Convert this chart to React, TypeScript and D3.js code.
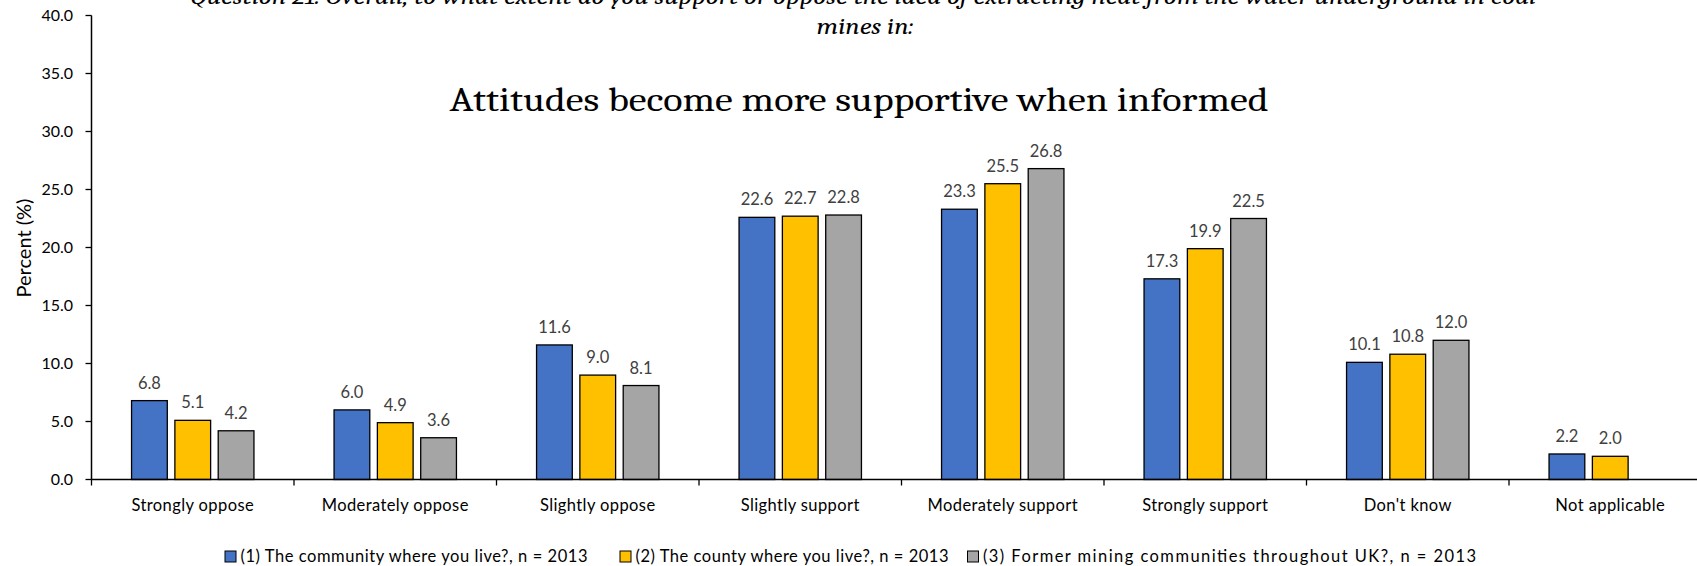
import React from "react";
import * as d3 from "d3";

// Survey responses (percent of respondents) by framing of the question
const categories = [
  "Strongly oppose",
  "Moderately oppose",
  "Slightly oppose",
  "Slightly support",
  "Moderately support",
  "Strongly support",
  "Don't know",
  "Not applicable",
];

const seriesNames = [
  "(1) The community where you live?, n = 2013",
  "(2) The county where you live?, n = 2013",
  "(3) Former mining communities throughout UK?, n = 2013",
];

const communityValues: (number | null)[] = [6.8, 6.0, 11.6, 22.6, 23.3, 17.3, 10.1, 2.2];
const countyValues: (number | null)[] = [5.1, 4.9, 9.0, 22.7, 25.5, 19.9, 10.8, 2.0];
const formerMiningValues: (number | null)[] = [4.2, 3.6, 8.1, 22.8, 26.8, 22.5, 12.0, null];

const seriesValues = [communityValues, countyValues, formerMiningValues];
const seriesColors = ["#4472C4", "#FFC000", "#A5A5A5"];

const yTicks = [0, 5, 10, 15, 20, 25, 30, 35, 40];

const subtitleLines = [
  "Question 21: Overall, to what extent do you support or oppose the idea of extracting heat from the water underground in coal",
  "mines in:",
];
const title = "Attitudes become more supportive when informed";

const W = 1697;
const H = 566;
const plotLeft = 91.5;
const categoryWidth = 202.5;
const labelFont = "Lato, 'Open Sans', sans-serif";
const serifFont = "Cambria, 'DejaVu Serif', 'Liberation Serif', serif";

// Legend layout: swatch x and text run length
const legendX = [225, 620, 967.5];
const legendTextLength = [347, 313, 493];

export default function App() {
  const x0 = d3
    .scaleBand<string>()
    .domain(categories)
    .range([plotLeft, plotLeft + categoryWidth * categories.length])
    .paddingInner(0)
    .paddingOuter(0);

  const groupWidth = 122.4;
  const x1 = d3
    .scaleBand<number>()
    .domain([0, 1, 2])
    .range([-groupWidth / 2, groupWidth / 2])
    .paddingInner(0.175)
    .paddingOuter(0);

  const y = d3.scaleLinear().domain([0, 40]).range([479.5, 15.5]);
  const fmt = d3.format(".1f");

  const boundaries = d3.range(categories.length + 1).map(
    (i) => plotLeft + i * categoryWidth
  );

  return (
    <svg
      width={W}
      height={H}
      style={{ position: "absolute", left: 0, top: 0, background: "#fff" }}
    >
      {/* Question text, its first line running off the top edge */}
      <text
        x={863}
        y={4}
        textAnchor="middle"
        fontFamily={serifFont}
        fontStyle="italic"
        fontSize={23}
        textLength={1346}
        lengthAdjust="spacingAndGlyphs"
        fill="#000"
      >
        {subtitleLines[0]}
      </text>
      <text
        x={865}
        y={34}
        textAnchor="middle"
        fontFamily={serifFont}
        fontStyle="italic"
        fontSize={23}
        textLength={97}
        lengthAdjust="spacingAndGlyphs"
        fill="#000"
      >
        {subtitleLines[1]}
      </text>

      {/* Headline */}
      <text
        x={859}
        y={111}
        textAnchor="middle"
        fontFamily={serifFont}
        fontSize={33}
        textLength={819}
        lengthAdjust="spacingAndGlyphs"
        fill="#000"
      >
        {title}
      </text>

      {/* Bars */}
      {categories.map((cat, ci) => (
        <g key={cat} transform={`translate(${x0(cat)! + x0.bandwidth() / 2},0)`}>
          {seriesValues.map((vals, si) => {
            const v = vals[ci];
            if (v == null) return null;
            const bx = x1(si)!;
            return (
              <g key={si}>
                <rect
                  x={bx}
                  y={y(v)}
                  width={x1.bandwidth()}
                  height={y(0) - y(v)}
                  fill={seriesColors[si]}
                  stroke="#000"
                  strokeWidth={1.3}
                />
                <text
                  x={bx + x1.bandwidth() / 2}
                  y={y(v) - 12}
                  textAnchor="middle"
                  fontFamily={labelFont}
                  fontSize={16.5}
                  fill="#404040"
                >
                  {fmt(v)}
                </text>
              </g>
            );
          })}
        </g>
      ))}

      {/* Y axis */}
      <line x1={plotLeft} x2={plotLeft} y1={y(0)} y2={y(40)} stroke="#000" strokeWidth={1.5} />
      {yTicks.map((t) => (
        <g key={t}>
          <line x1={plotLeft - 6} x2={plotLeft} y1={y(t)} y2={y(t)} stroke="#000" strokeWidth={1.3} />
          <text
            x={73}
            y={y(t)}
            dy="0.35em"
            textAnchor="end"
            fontFamily={labelFont}
            fontSize={16}
            fill="#000"
          >
            {fmt(t)}
          </text>
        </g>
      ))}
      <text
        transform={`translate(24,248) rotate(-90)`}
        textAnchor="middle"
        dy="0.35em"
        fontFamily={labelFont}
        fontSize={20}
        fill="#000"
      >
        Percent (%)
      </text>

      {/* X axis */}
      <line
        x1={plotLeft}
        x2={plotLeft + categoryWidth * categories.length}
        y1={y(0)}
        y2={y(0)}
        stroke="#000"
        strokeWidth={1.5}
      />
      {boundaries.map((bx, i) => (
        <line key={i} x1={bx} x2={bx} y1={y(0)} y2={y(0) + 6} stroke="#000" strokeWidth={1.3} />
      ))}
      {categories.map((cat) => (
        <text
          key={cat}
          x={x0(cat)! + x0.bandwidth() / 2}
          y={505}
          dy="0.35em"
          textAnchor="middle"
          fontFamily={labelFont}
          fontSize={16.5}
          letterSpacing={0.4}
          fill="#000"
        >
          {cat}
        </text>
      ))}

      {/* Legend */}
      {seriesNames.map((name, si) => (
        <g key={name}>
          <rect
            x={legendX[si]}
            y={551}
            width={11}
            height={11}
            fill={seriesColors[si]}
            stroke="#000"
            strokeWidth={1}
          />
          <text
            x={legendX[si] + 15.5}
            y={556.5}
            dy="0.35em"
            fontFamily={labelFont}
            fontSize={16.5}
            textLength={legendTextLength[si]}
            lengthAdjust="spacing"
            fill="#000"
          >
            {name}
          </text>
        </g>
      ))}
    </svg>
  );
}
